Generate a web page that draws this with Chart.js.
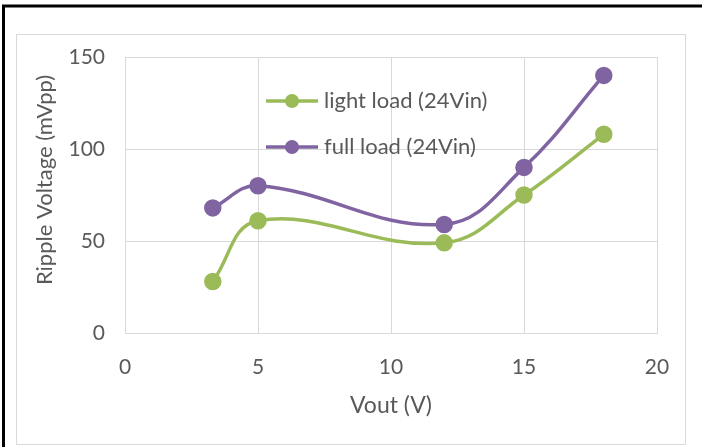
<!DOCTYPE html>
<html>
<head>
<meta charset="utf-8">
<script src="https://cdn.jsdelivr.net/npm/chart.js@4"></script>
<style>
  html, body { margin: 0; padding: 0; background: #fff; }
  #wrap { width: 702px; height: 447px; }
</style>
</head>
<body>
<div id="wrap"><canvas id="rippleChart" width="702" height="447"></canvas></div>
<script>
// Ripple voltage vs output voltage

// Data
const voutValues = [3.3, 5, 12, 15, 18];
const lightLoadRipple = [28, 61, 49, 75, 108];
const fullLoadRipple = [68, 80, 59, 90, 140];
const seriesNames = ['light load (24Vin)', 'full load (24Vin)'];
const xTicks = [0, 5, 10, 15, 20];
const yTicks = [0, 50, 100, 150];
const yTitle = 'Ripple Voltage (mVpp)';

// Colors & font
const GREEN = '#9BBB59';
const PURPLE = '#8064A2';
const TEXT = '#595959';
const GRID = '#d9d9d9';
const FONT = 'Lato, "Open Sans", sans-serif';

const toPoints = (ys) => voutValues.map((x, i) => ({ x: x, y: ys[i] }));

// Frame around the figure + rotated y title
const framePlugin = {
  id: 'frame',
  beforeDraw(chart) {
    const c = chart.ctx;
    c.save();
    c.fillStyle = '#fff';
    c.fillRect(0, 0, chart.width, chart.height);
    c.strokeStyle = GRID;
    c.lineWidth = 1;
    c.strokeRect(16.5, 34.5, 669, 410);
    c.strokeStyle = '#000';
    c.lineWidth = 3;
    c.beginPath();
    c.moveTo(3.5, chart.height);
    c.lineTo(3.5, 6);
    c.lineTo(chart.width, 6);
    c.stroke();

    c.translate(45, 180);
    c.rotate(-Math.PI / 2);
    c.fillStyle = TEXT;
    c.font = '22px ' + FONT;
    c.textAlign = 'center';
    c.textBaseline = 'middle';
    c.fillText(yTitle, 0, 0);
    c.restore();
  }
};

// Legend inside the plot: line + marker + label
const legendPlugin = {
  id: 'inlineLegend',
  afterDraw(chart) {
    const c = chart.ctx;
    const rows = [
      { color: GREEN, y: 101 },
      { color: PURPLE, y: 147 }
    ];
    c.save();
    rows.forEach((r, i) => {
      c.strokeStyle = r.color;
      c.lineWidth = 3.5;
      c.beginPath();
      c.moveTo(266, r.y);
      c.lineTo(318, r.y);
      c.stroke();
      c.fillStyle = r.color;
      c.beginPath();
      c.arc(292, r.y, 7, 0, Math.PI * 2);
      c.fill();
      c.fillStyle = TEXT;
      c.font = '22px ' + FONT;
      c.textBaseline = 'middle';
      c.textAlign = 'left';
      c.fillText(seriesNames[i], 324, r.y);
    });
    c.restore();
  }
};

const ctx = document.getElementById('rippleChart').getContext('2d');

new Chart(ctx, {
  type: 'scatter',
  data: {
    datasets: [
      {
        label: seriesNames[0],
        data: toPoints(lightLoadRipple),
        showLine: true,
        borderColor: GREEN,
        backgroundColor: GREEN,
        borderWidth: 3.5,
        pointRadius: 7,
        pointHoverRadius: 7,
        tension: 0.4
      },
      {
        label: seriesNames[1],
        data: toPoints(fullLoadRipple),
        showLine: true,
        borderColor: PURPLE,
        backgroundColor: PURPLE,
        borderWidth: 3.5,
        pointRadius: 7,
        pointHoverRadius: 7,
        tension: 0.4
      }
    ]
  },
  options: {
    responsive: false,
    animation: false,
    events: [],
    layout: {
      padding: { left: 0, right: 45, top: 57, bottom: 0 }
    },
    plugins: {
      legend: { display: false },
      tooltip: { enabled: false }
    },
    scales: {
      x: {
        type: 'linear',
        min: 0,
        max: 20,
        afterFit(scale) { scale.height = 114; },
        afterBuildTicks(scale) { scale.ticks = xTicks.map(v => ({ value: v })); },
        grid: { color: GRID, lineWidth: 1, drawTicks: false },
        border: { color: GRID, width: 1 },
        ticks: {
          color: TEXT,
          font: { family: FONT, size: 21 },
          padding: 22
        },
        title: {
          display: true,
          text: 'Vout (V)',
          color: TEXT,
          font: { family: FONT, size: 23 },
          padding: { top: 0, bottom: 28 }
        }
      },
      y: {
        type: 'linear',
        min: 0,
        max: 150,
        afterFit(scale) { scale.width = 125; },
        afterBuildTicks(scale) { scale.ticks = yTicks.map(v => ({ value: v })); },
        grid: { color: GRID, lineWidth: 1, drawTicks: false },
        border: { color: GRID, width: 1 },
        ticks: {
          color: TEXT,
          font: { family: FONT, size: 21 },
          padding: 20
        }
      }
    }
  },
  plugins: [framePlugin, legendPlugin]
});
</script>
</body>
</html>
